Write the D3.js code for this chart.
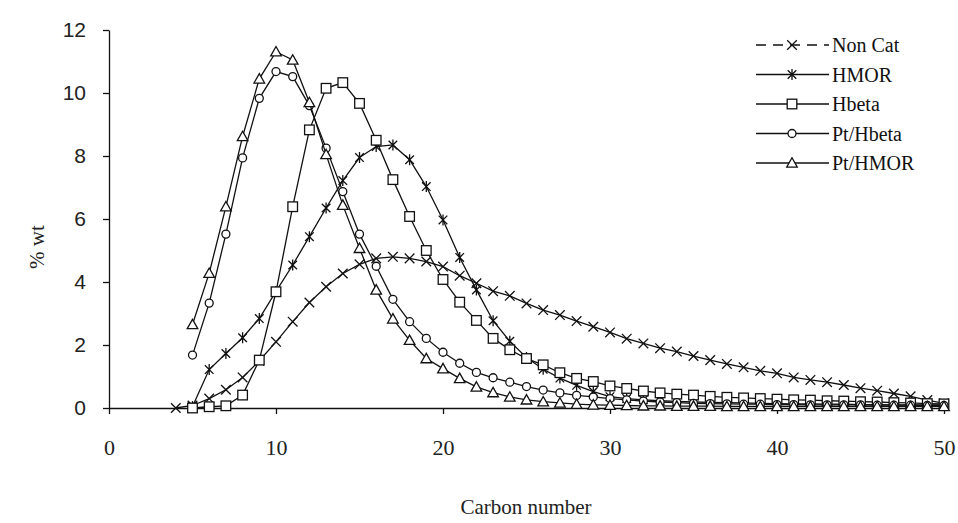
<!DOCTYPE html>
<html>
<head>
<meta charset="utf-8">
<script src="https://cdn.jsdelivr.net/npm/d3@7"></script>
<style>
  body { margin: 0; background: #fff; }
  svg { display: block; }
  .axis path, .axis line { stroke: #111; stroke-width: 1.3; }
  .ylab text { font-family: "Liberation Sans", Arial, sans-serif; font-size: 21px; fill: #222; }
  .xlab text { font-family: "Liberation Serif", "Times New Roman", serif; font-size: 22px; fill: #222; }
  .title { font-family: "Liberation Serif", "Times New Roman", serif; font-size: 21px; fill: #222; }
  .legend text { font-family: "Liberation Serif", "Times New Roman", serif; font-size: 20px; fill: #111; }
</style>
</head>
<body>
<div id="chart"></div>
<script>
var width = 958
var height = 523

// carbon numbers
var carbonNonCat = d3.range(4, 51)
var carbon = d3.range(5, 51)

// % wt
var nonCat = [0, 0.08, 0.3, 0.58, 0.97, 1.5, 2.1, 2.74, 3.35, 3.85, 4.27,
  4.56, 4.75, 4.8, 4.75, 4.65, 4.49, 4.2, 3.96, 3.71, 3.56,
  3.32, 3.11, 2.95, 2.76, 2.58, 2.4, 2.2, 2.05, 1.9, 1.79,
  1.65, 1.52, 1.4, 1.29, 1.18, 1.1, 0.97, 0.89, 0.82, 0.73,
  0.63, 0.55, 0.46, 0.37, 0.25, 0.15]

var hmor = [0.05, 1.22, 1.73, 2.23, 2.84, 3.7, 4.54, 5.44, 6.35, 7.22,
  7.95, 8.3, 8.35, 7.88, 7.03, 5.97, 4.78, 3.75, 2.77, 2.12,
  1.6, 1.23, 0.95, 0.72, 0.52, 0.36, 0.3, 0.26, 0.23, 0.21,
  0.19, 0.18, 0.17, 0.16, 0.15, 0.14, 0.13, 0.13, 0.12, 0.12,
  0.11, 0.11, 0.1, 0.1, 0.1, 0.1]

var hbeta = [0, 0.04, 0.07, 0.41, 1.52, 3.69, 6.39, 8.83, 10.15, 10.33,
  9.67, 8.5, 7.25, 6.08, 5.0, 4.08, 3.36, 2.78, 2.21, 1.85,
  1.57, 1.37, 1.12, 0.94, 0.84, 0.7, 0.62, 0.54, 0.48, 0.44,
  0.41, 0.37, 0.34, 0.32, 0.3, 0.28, 0.26, 0.25, 0.23, 0.22,
  0.2, 0.19, 0.17, 0.16, 0.14, 0.13]

var ptHbeta = [1.68, 3.33, 5.52, 7.94, 9.83, 10.68, 10.52, 9.6, 8.25, 6.87,
  5.52, 4.5, 3.45, 2.74, 2.21, 1.77, 1.42, 1.13, 0.96, 0.82,
  0.68, 0.57, 0.48, 0.4, 0.35, 0.3, 0.26, 0.22, 0.19, 0.17,
  0.15, 0.14, 0.13, 0.12, 0.12, 0.11, 0.11, 0.1, 0.1, 0.1,
  0.1, 0.09, 0.09, 0.09, 0.08, 0.08]

var ptHmor = [2.65, 4.28, 6.39, 8.62, 10.45, 11.31, 11.05, 9.7, 8.05, 6.44,
  5.07, 3.75, 2.83, 2.15, 1.57, 1.25, 0.94, 0.67, 0.49, 0.35,
  0.26, 0.2, 0.16, 0.12, 0.1, 0.09, 0.08, 0.07, 0.07, 0.06,
  0.06, 0.06, 0.05, 0.05, 0.05, 0.05, 0.05, 0.05, 0.05, 0.05,
  0.05, 0.05, 0.05, 0.05, 0.05, 0.05]

var seriesNames = ["Non Cat", "HMOR", "Hbeta", "Pt/Hbeta", "Pt/HMOR"]
var seriesMarkers = ["cross", "star", "square", "circle", "triangle"]
var xTicks = [0, 10, 20, 30, 40, 50]
var yTicks = [0, 2, 4, 6, 8, 10, 12]

var series = [
  { name: seriesNames[0], marker: seriesMarkers[0], xs: carbonNonCat, ys: nonCat },
  { name: seriesNames[1], marker: seriesMarkers[1], xs: carbon, ys: hmor },
  { name: seriesNames[2], marker: seriesMarkers[2], xs: carbon, ys: hbeta },
  { name: seriesNames[3], marker: seriesMarkers[3], xs: carbon, ys: ptHbeta },
  { name: seriesNames[4], marker: seriesMarkers[4], xs: carbon, ys: ptHmor }
]

var x = d3.scaleLinear().domain([0, 50]).range([109, 944])
var y = d3.scaleLinear().domain([0, 12]).range([408, 30])

var svg = d3.select("#chart").append("svg")
  .attr("width", width)
  .attr("height", height)

svg.append("g")
  .attr("class", "axis ylab")
  .attr("transform", "translate(" + x(0) + ",0)")
  .call(d3.axisLeft(y).tickValues(yTicks).tickSize(6).tickSizeOuter(0).tickPadding(17))

svg.append("g")
  .attr("class", "axis xlab")
  .attr("transform", "translate(0," + y(0) + ")")
  .call(d3.axisBottom(x).tickValues(xTicks).tickSize(6).tickSizeOuter(0).tickPadding(25))

svg.append("text")
  .attr("class", "title")
  .attr("x", 526)
  .attr("y", 514)
  .attr("text-anchor", "middle")
  .text("Carbon number")

svg.append("text")
  .attr("class", "title")
  .attr("transform", "translate(44,247) rotate(-90)")
  .attr("text-anchor", "middle")
  .text("% wt")

function drawMarker(g, type) {
  var s = 4.8
  if (type == "cross") {
    g.append("path").attr("d", "M" + -s + "," + -s + "L" + s + "," + s + "M" + s + "," + -s + "L" + -s + "," + s)
      .attr("stroke", "#111").attr("stroke-width", 1.3)
  } else if (type == "star") {
    g.append("path").attr("d", "M-4.3,-4.3L4.3,4.3M4.3,-4.3L-4.3,4.3M0,-5.5L0,5.5")
      .attr("stroke", "#111").attr("stroke-width", 1.3)
  } else if (type == "square") {
    g.append("rect").attr("x", -4.8).attr("y", -4.8).attr("width", 9.6).attr("height", 9.6)
      .attr("fill", "#fff").attr("stroke", "#111").attr("stroke-width", 1.3)
  } else if (type == "circle") {
    g.append("circle").attr("r", 4)
      .attr("fill", "#fff").attr("stroke", "#111").attr("stroke-width", 1.3)
  } else if (type == "triangle") {
    g.append("path").attr("d", "M0,-5.2L5.3,4.2L-5.3,4.2Z")
      .attr("fill", "#fff").attr("stroke", "#111").attr("stroke-width", 1.3)
  }
}

var line = d3.line()
  .x(function(d) { return x(d[0]); })
  .y(function(d) { return y(d[1]); })

series.forEach(function(s) {
  var pts = s.xs.map(function(c, i) { return [c, s.ys[i]]; })
  svg.append("path")
    .datum(pts)
    .attr("fill", "none")
    .attr("stroke", "#111")
    .attr("stroke-width", 1.3)
    .attr("d", line)

  svg.append("g").selectAll("g")
    .data(pts)
    .enter().append("g")
    .attr("transform", function(d) { return "translate(" + x(d[0]) + "," + y(d[1]) + ")"; })
    .each(function() { drawMarker(d3.select(this), s.marker) })
})

// legend
var legend = svg.append("g").attr("class", "legend")
series.forEach(function(s, i) {
  var ly = 45 + i * 29.5
  var row = legend.append("g").attr("transform", "translate(0," + ly + ")")
  row.append("line")
    .attr("x1", 756).attr("x2", 829)
    .attr("stroke", "#111").attr("stroke-width", 1.3)
    .attr("stroke-dasharray", i == 0 ? "10,7" : null)
  drawMarker(row.append("g").attr("transform", "translate(792,0)"), s.marker)
  row.append("text")
    .attr("x", 832).attr("y", 7)
    .text(s.name)
})
</script>
</body>
</html>
